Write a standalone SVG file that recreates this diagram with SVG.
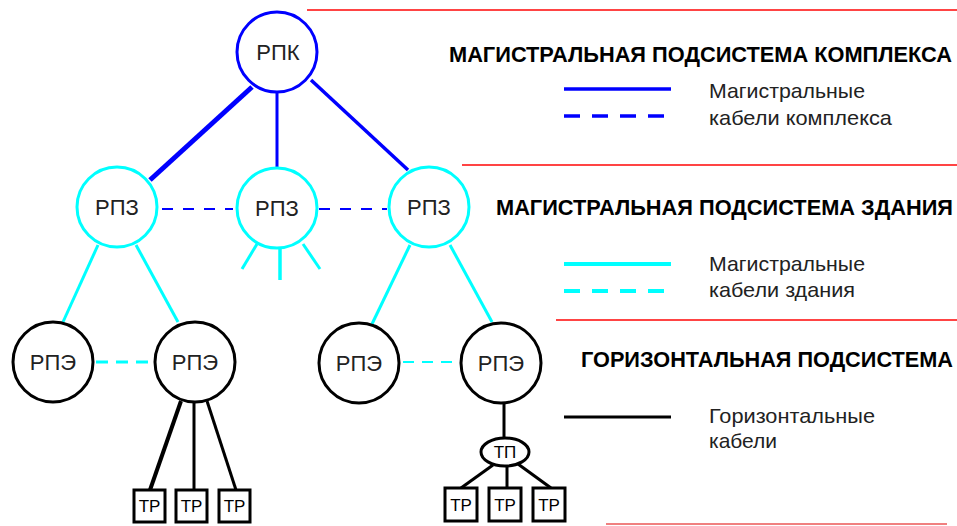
<svg xmlns="http://www.w3.org/2000/svg" width="957" height="526" viewBox="0 0 957 526">
<style>
.bg{fill:#fff}
.n{fill:#fff;stroke-width:3}
.nb{stroke:#0000ff}
.nc{stroke:#00ffff}
.nk{stroke:#000}
.lbl{font-family:"Liberation Sans",Arial,sans-serif;font-size:22px;fill:#222;text-anchor:middle}
.sm{font-family:"Liberation Sans",Arial,sans-serif;font-size:17px;fill:#000;text-anchor:middle}
.box{fill:#fff;stroke:#000;stroke-width:3}
.title{font-family:"Liberation Sans",Arial,sans-serif;font-size:22px;font-weight:bold;fill:#000}
.leg{font-family:"Liberation Sans",Arial,sans-serif;font-size:21px;fill:#222}
.red{stroke:#ff4444;stroke-width:2}
.b{stroke:#0000ff;fill:none}
.c{stroke:#00ffff;fill:none}
.k{stroke:#000;fill:none}
</style>
<rect class="bg" x="0" y="0" width="957" height="526"/>
<g id="separators">
<line class="red" x1="307" y1="10" x2="957" y2="10"/>
<line class="red" x1="462" y1="165" x2="957" y2="165"/>
<line class="red" x1="556" y1="320" x2="957" y2="320"/>
<line x1="606" y1="524" x2="947" y2="524" stroke="#f08080" stroke-width="2"/>
</g>
<g id="connectors">
<line class="b" x1="252" y1="87" x2="150" y2="180" stroke-width="5"/>
<line class="b" x1="277" y1="93" x2="277" y2="167" stroke-width="3"/>
<line class="b" x1="311" y1="80" x2="408" y2="170" stroke-width="3.5"/>
<line class="b" x1="162" y1="209" x2="233" y2="209" stroke-width="2" stroke-dasharray="11 10"/>
<line class="b" x1="319" y1="209" x2="387" y2="209" stroke-width="2" stroke-dasharray="11 10"/>
<line class="c" x1="98" y1="245" x2="63" y2="322" stroke-width="3"/>
<line class="c" x1="136" y1="245" x2="178" y2="322" stroke-width="3"/>
<line class="c" x1="410" y1="245" x2="372" y2="324" stroke-width="3"/>
<line class="c" x1="450" y1="245" x2="492" y2="322" stroke-width="3"/>
<line class="c" x1="257" y1="244" x2="242" y2="269" stroke-width="3"/>
<line class="c" x1="280" y1="248" x2="280" y2="280" stroke-width="3.5"/>
<line class="c" x1="303" y1="244" x2="320" y2="269" stroke-width="3"/>
<line class="c" x1="96" y1="362" x2="150" y2="362" stroke-width="3" stroke-dasharray="12 8"/>
<line class="c" x1="403" y1="362" x2="459" y2="362" stroke-width="2" stroke-dasharray="11 8"/>
<line class="k" x1="181" y1="401" x2="150" y2="490" stroke-width="4"/>
<line class="k" x1="194" y1="402" x2="194" y2="490" stroke-width="3"/>
<line class="k" x1="207" y1="401" x2="236" y2="490" stroke-width="3"/>
<line class="k" x1="504" y1="403" x2="504" y2="438" stroke-width="3"/>
<line class="k" x1="493" y1="465" x2="461" y2="488" stroke-width="3"/>
<line class="k" x1="507" y1="466" x2="507" y2="488" stroke-width="3"/>
<line class="k" x1="518" y1="464" x2="551" y2="488" stroke-width="3"/>
</g>
<g id="rpk"><circle class="n nb" cx="277" cy="52" r="40" stroke-width="3.5"/><text class="lbl" x="278" y="60">РПК</text></g>
<g id="rpz1"><circle class="n nc" cx="117" cy="207" r="40"/><text class="lbl" x="117" y="215">РПЗ</text></g>
<g id="rpz2"><circle class="n nc" cx="277" cy="208" r="40"/><text class="lbl" x="277" y="216">РПЗ</text></g>
<g id="rpz3"><circle class="n nc" cx="429" cy="207" r="40"/><text class="lbl" x="429" y="215">РПЗ</text></g>
<g id="rpe1"><circle class="n nk" cx="53" cy="362" r="40"/><text class="lbl" x="53" y="370">РПЭ</text></g>
<g id="rpe2"><circle class="n nk" cx="195" cy="362" r="40"/><text class="lbl" x="195" y="370">РПЭ</text></g>
<g id="rpe3"><circle class="n nk" cx="359" cy="363" r="40"/><text class="lbl" x="359" y="371">РПЭ</text></g>
<g id="rpe4"><circle class="n nk" cx="501" cy="363" r="40"/><text class="lbl" x="501" y="371">РПЭ</text></g>
<g id="tp"><ellipse class="n nk" cx="505" cy="452" rx="24" ry="14"/><text class="sm" x="505" y="458">ТП</text></g>
<g id="tr1"><rect class="box" x="134" y="490" width="31" height="32"/><text class="sm" x="149.5" y="512">ТР</text></g>
<g id="tr2"><rect class="box" x="176" y="490" width="31" height="32"/><text class="sm" x="191.5" y="512">ТР</text></g>
<g id="tr3"><rect class="box" x="219" y="490" width="31" height="32"/><text class="sm" x="234.5" y="512">ТР</text></g>
<g id="tr4"><rect class="box" x="445" y="488" width="32" height="33"/><text class="sm" x="461" y="511">ТР</text></g>
<g id="tr5"><rect class="box" x="489" y="488" width="32" height="33"/><text class="sm" x="505" y="511">ТР</text></g>
<g id="tr6"><rect class="box" x="533" y="488" width="32" height="33"/><text class="sm" x="549" y="511">ТР</text></g>
<g id="legend">
<text class="title" x="449" y="62" textLength="503" lengthAdjust="spacingAndGlyphs">МАГИСТРАЛЬНАЯ ПОДСИСТЕМА КОМПЛЕКСА</text>
<line class="b" x1="564" y1="89" x2="671" y2="89" stroke-width="3.5"/>
<line class="b" x1="564" y1="116" x2="666" y2="116" stroke-width="3.5" stroke-dasharray="16 12"/>
<text class="leg" x="709" y="98" textLength="156" lengthAdjust="spacingAndGlyphs">Магистральные</text>
<text class="leg" x="709" y="125" textLength="183" lengthAdjust="spacingAndGlyphs">кабели комплекса</text>
<text class="title" x="496" y="215" textLength="457" lengthAdjust="spacingAndGlyphs">МАГИСТРАЛЬНАЯ ПОДСИСТЕМА ЗДАНИЯ</text>
<line class="c" x1="564" y1="264" x2="671" y2="264" stroke-width="4"/>
<line class="c" x1="564" y1="291" x2="666" y2="291" stroke-width="4" stroke-dasharray="16 12"/>
<text class="leg" x="709" y="271" textLength="156" lengthAdjust="spacingAndGlyphs">Магистральные</text>
<text class="leg" x="709" y="297" textLength="146" lengthAdjust="spacingAndGlyphs">кабели здания</text>
<text class="title" x="581" y="367" textLength="372" lengthAdjust="spacingAndGlyphs">ГОРИЗОНТАЛЬНАЯ ПОДСИСТЕМА</text>
<line class="k" x1="564" y1="417" x2="671" y2="417" stroke-width="3"/>
<text class="leg" x="709" y="423" textLength="166" lengthAdjust="spacingAndGlyphs">Горизонтальные</text>
<text class="leg" x="709" y="448" textLength="68" lengthAdjust="spacingAndGlyphs">кабели</text>
</g>
</svg>
